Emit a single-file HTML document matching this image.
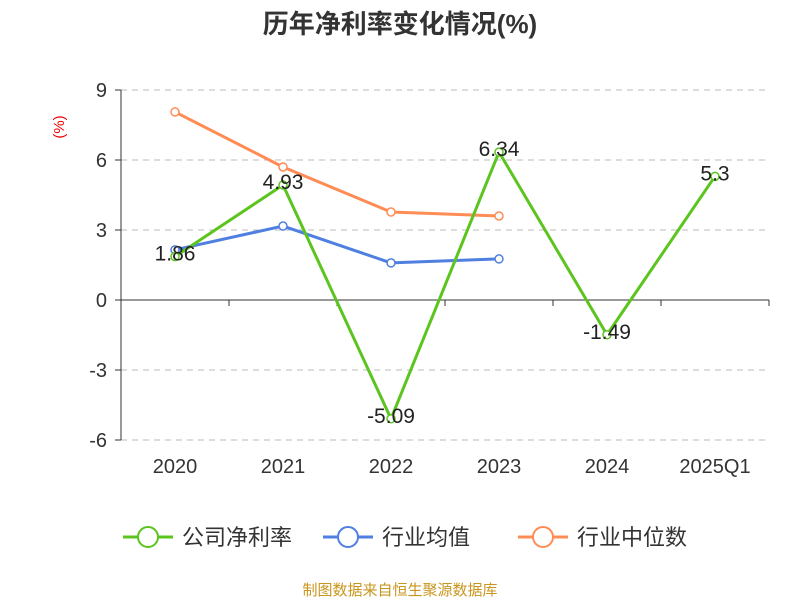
<!DOCTYPE html>
<html><head><meta charset="utf-8"><style>
body{margin:0;background:#fff;font-family:"Liberation Sans","Noto Sans CJK SC",sans-serif}
</style></head><body>
<svg id="c" width="800" height="600" xmlns="http://www.w3.org/2000/svg">
<text x="400" y="33" text-anchor="middle" font-size="26" font-weight="bold" fill="#333" font-family="Liberation Sans,Noto Sans CJK SC,sans-serif">历年净利率变化情况(%)</text>
<text x="64" y="127" text-anchor="middle" font-size="15" fill="#e00" transform="rotate(-90 64 127)">(%)</text>
<g id="grid"></g><g id="axes"></g><g id="series"></g><g id="legend"></g>
<text x="400" y="595" text-anchor="middle" font-size="15" fill="#c8961e" font-family="Liberation Sans,Noto Sans CJK SC,sans-serif">制图数据来自恒生聚源数据库</text>
</svg>
<script>
const categories=["2020","2021","2022","2023","2024","2025Q1"];
const netMargin=[1.86,4.93,-5.09,6.34,-1.49,5.3];
const industryAvg=[2.15,3.17,1.59,1.76];
const industryMedian=[8.06,5.7,3.77,3.6];
const yTicks=[9,6,3,0,-3,-6];
const seriesNames=["公司净利率","行业均值","行业中位数"];
const NS="http://www.w3.org/2000/svg";
const x0=121,x1=769,yTop=90,yBot=440,vMax=9,vMin=-6;
const bw=(x1-x0)/categories.length;
const X=i=>x0+bw*(i+0.5);
const Y=v=>yTop+(vMax-v)/(vMax-vMin)*(yBot-yTop);
function mk(t,a,p){const e=document.createElementNS(NS,t);for(const k in a)e.setAttribute(k,a[k]);p.appendChild(e);return e;}
const grid=document.getElementById('grid'),axes=document.getElementById('axes'),ser=document.getElementById('series'),leg=document.getElementById('legend');
yTicks.forEach(v=>{
 if(v!==0){const l=mk('line',{x1:x0,x2:x1,y1:Y(v),y2:Y(v),stroke:'#bbb','stroke-dasharray':'6,5'},grid);
 
 }
 const tk=mk('line',{x1:x0-6,x2:x0,y1:Y(v),y2:Y(v),stroke:'#333'},axes);
 
 
 const t=mk('text',{x:x0-14,y:Y(v)+7,'text-anchor':'end','font-size':20,fill:'#333'},axes);t.textContent=v;
 
 
});
const ya=mk('line',{x1:x0,x2:x0,y1:yTop,y2:yBot,stroke:'#333'},axes);


const xa=mk('line',{x1:x0,x2:x1,y1:Y(0),y2:Y(0),stroke:'#333'},axes);


for(let i=0;i<=categories.length;i++){const t=mk('line',{x1:x0+bw*i,x2:x0+bw*i,y1:Y(0),y2:Y(0)+6,stroke:'#333'},axes);
 
 }
categories.forEach((c,i)=>{const t=mk('text',{x:X(i),y:473,'text-anchor':'middle','font-size':20,fill:'#333'},axes);t.textContent=c;
 
 });
function line(vals,color,name,labels){
 const g=mk('g',{},ser);
 
 
 const p=mk('polyline',{points:vals.map((v,i)=>X(i)+','+Y(v)).join(' '),fill:'none',stroke:color,'stroke-width':3,'stroke-linejoin':'round'},g);
 
 
 vals.forEach((v,i)=>{const c=mk('circle',{cx:X(i),cy:Y(v),r:4,fill:'#fff',stroke:color,'stroke-width':1.5},g);
  
  });
 if(labels){vals.forEach((v,i)=>{
   const t=mk('text',{x:X(i),y:Y(v)+4,'text-anchor':'middle','font-size':21,fill:'#222'},g);
   t.textContent=v;
   
   });}
}
line(industryMedian,'#ff8c55','industry-median-series',false);
line(industryAvg,'#4f7fe0','industry-avg-series',false);
line(netMargin,'#5cc41f','net-margin-series',true);
const colors=['#5cc41f','#4f7fe0','#ff8c55'];const lx=[123,323,518];
seriesNames.forEach((n,i)=>{const g=mk('g',{},leg);
 
 
 mk('line',{x1:lx[i],x2:lx[i]+50,y1:537,y2:537,stroke:colors[i],'stroke-width':3},g);
 mk('circle',{cx:lx[i]+25,cy:537,r:10,fill:'#fff',stroke:colors[i],'stroke-width':2},g);
 const t=mk('text',{x:lx[i]+59,y:545,'font-size':22,fill:'#333'},g);t.textContent=n;});
</script>
</body></html>
